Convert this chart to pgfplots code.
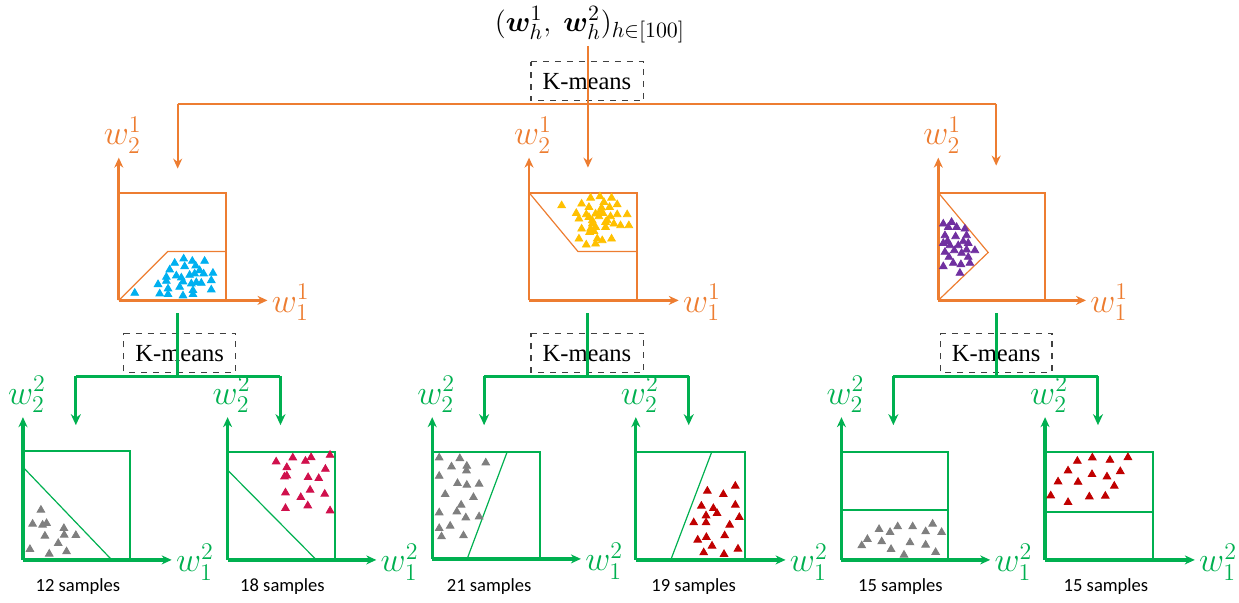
\documentclass[border=0pt]{standalone}
\usepackage{pgfplots}
\pgfplotsset{compat=1.18}
\usepackage{bm}
\usepackage{fontspec}
\setmainfont{Liberation Serif}
\newfontfamily\carlito{Carlito}
\usetikzlibrary{arrows.meta}
\definecolor{orng}{HTML}{ED7D31}
\definecolor{grn}{HTML}{00B050}
\definecolor{cyn}{HTML}{00B0F0}
\definecolor{ylw}{HTML}{FFC000}
\definecolor{prp}{HTML}{7030A0}
\definecolor{gry}{HTML}{7F7F7F}
\definecolor{crm}{HTML}{D0104C}
\definecolor{drd}{HTML}{C00000}
\tikzset{lab/.style={font=\fontsize{16.5}{18}\selectfont, inner sep=1pt},
  km/.style={font=\fontsize{12.3}{14}\selectfont, inner sep=1pt}}
\begin{document}
\begin{tikzpicture}
\begin{axis}[
  width=619.5pt, height=301.5pt, scale only axis,
  xmin=0, xmax=1239, ymin=0, ymax=603, y dir=reverse,
  hide axis, clip=false,
  oax/.style={orng, line width=1.4pt, -{Stealth[length=5pt,width=4.5pt]}},
  gax/.style={grn, line width=1.6pt, -{Stealth[length=5pt,width=4.5pt]}},
  obox/.style={orng, line width=1pt},
  gbox/.style={grn, line width=1pt},
  oin/.style={orng, line width=0.6pt},
  gin/.style={grn, line width=0.6pt},
  ocon/.style={orng, line width=0.9pt},
  ocona/.style={orng, line width=0.9pt, -{Stealth[length=5pt,width=4.5pt]}},
  gcon/.style={grn, line width=1.5pt},
  gcona/.style={grn, line width=1.5pt, -{Stealth[length=5.5pt,width=5pt]}},
  kbox/.style={black!75, dashed, line width=0.6pt},
  pts/.style={only marks, mark=triangle*, mark size=2.2pt, color=#1, mark options={draw=#1, fill=#1}},
]
\addplot[draw=none] coordinates {(0,0) (1239,603)};

% ---------- title and top K-means ----------
\node[font=\fontsize{15}{17}\selectfont] at (axis cs:591,24) {$(\bm{w}_h^{1},\ \bm{w}_h^{2})_{h\in[100]}$};
\addplot[kbox] coordinates {(532,61) (645,61) (645,100) (532,100) (532,61)};
\node[km] at (axis cs:588,81) {K-means};
\addplot[ocon] coordinates {(178,103) (998,103)};
\addplot[ocona] coordinates {(589,45) (589,167)};
\addplot[ocona] coordinates {(178,103) (178,168)};
\addplot[ocona] coordinates {(998,103) (998,165)};

% ---------- top panel 1 ----------
\addplot[obox] coordinates {(119,192) (226,192) (226,300)};
\addplot[oin] coordinates {(119,300) (168,251) (226,251)};
\addplot[oax] coordinates {(119,300) (119,157)};
\addplot[oax] coordinates {(119,300) (268,300)};
\addplot[pts=cyn] table[row sep=\\, x expr=\thisrow{x}/3+100, y expr=\thisrow{y}/3+110] {
x y\\ 105 548\\ 225 458\\ 252 445\\ 278 452\\ 315 452\\ 255 468\\ 288 466\\ 210 478\\ 300 480\\ 340 488\\
230 496\\ 270 494\\ 312 490\\ 200 500\\ 245 502\\ 285 490\\ 200 512\\ 250 514\\ 290 516\\ 305 518\\
335 510\\ 175 522\\ 205 535\\ 240 530\\ 275 520\\ 280 540\\ 335 538\\ 180 550\\ 205 552\\ 250 556\\ 280 552\\
};
\node[orng, lab, anchor=south] at (axis cs:123,155) {$w_2^1$};
\node[orng, lab, anchor=west] at (axis cs:270,302) {$w_1^1$};

% ---------- top panel 2 ----------
\addplot[obox] coordinates {(530,192) (638,192) (638,300)};
\addplot[oin] coordinates {(530,192) (579,251) (638,251)};
\addplot[oax] coordinates {(530,300) (530,157)};
\addplot[oax] coordinates {(530,300) (680,300)};
\addplot[pts=ylw] table[row sep=\\, x expr=\thisrow{x}/3+500, y expr=\thisrow{y}/3+110] {
x y\\ 188 285\\ 248 280\\ 275 262\\ 303 258\\ 338 262\\ 270 290\\ 315 275\\ 355 282\\ 308 292\\ 332 290\\
232 308\\ 262 312\\ 290 310\\ 312 308\\ 335 318\\ 355 312\\ 385 312\\ 240 325\\ 270 320\\ 300 318\\
325 330\\ 280 340\\ 320 335\\ 345 340\\ 365 345\\ 390 345\\ 248 355\\ 275 355\\ 290 350\\ 320 350\\
272 365\\ 285 362\\ 240 385\\ 295 385\\ 310 390\\ 338 385\\ 262 403\\ 290 400\\ 280 330\\ 305 300\\
};
\node[orng, lab, anchor=south] at (axis cs:534,155) {$w_2^1$};
\node[orng, lab, anchor=west] at (axis cs:682,302) {$w_1^1$};

% ---------- top panel 3 ----------
\addplot[obox] coordinates {(940,192) (1047,192) (1047,300)};
\addplot[oin] coordinates {(940,192) (990,252) (940,300)};
\addplot[oax] coordinates {(940,300) (940,157)};
\addplot[oax] coordinates {(940,300) (1088,300)};
\addplot[pts=prp] table[row sep=\\, x expr=\thisrow{x}/3+900, y expr=\thisrow{y}/3+110] {
x y\\ 135 340\\ 160 335\\ 150 350\\ 175 350\\ 200 355\\ 140 375\\ 172 378\\ 205 375\\ 148 392\\ 195 393\\
210 398\\ 135 398\\ 155 405\\ 180 405\\ 168 420\\ 190 428\\ 205 418\\ 230 420\\ 140 425\\ 152 440\\
210 440\\ 165 458\\ 188 462\\ 215 458\\ 135 468\\ 185 488\\
};
\node[orng, lab, anchor=south] at (axis cs:944,155) {$w_2^1$};
\node[orng, lab, anchor=west] at (axis cs:1090,302) {$w_1^1$};

% ---------- green connectors and K-means boxes ----------
\addplot[kbox] coordinates {(124,333) (236,333) (236,372) (124,372) (124,333)};
\addplot[kbox] coordinates {(532,333) (645,333) (645,372) (532,372) (532,333)};
\addplot[kbox] coordinates {(942,333) (1054,333) (1054,372) (942,372) (942,333)};
\node[km] at (axis cs:180,353) {K-means};
\node[km] at (axis cs:588,353) {K-means};
\node[km] at (axis cs:998,353) {K-means};
\addplot[gcon] coordinates {(178,313) (178,376)};
\addplot[gcon] coordinates {(76,376) (281,376)};
\addplot[gcona] coordinates {(76,376) (76,425)};
\addplot[gcona] coordinates {(281,376) (281,425)};
\addplot[gcon] coordinates {(589,313) (589,376)};
\addplot[gcon] coordinates {(485,376) (690,376)};
\addplot[gcona] coordinates {(485,376) (485,425)};
\addplot[gcona] coordinates {(690,376) (690,425)};
\addplot[gcon] coordinates {(998,313) (998,376)};
\addplot[gcon] coordinates {(895,376) (1100,376)};
\addplot[gcona] coordinates {(895,376) (895,425)};
\addplot[gcona] coordinates {(1100,376) (1100,425)};

% ---------- bottom panel 1 ----------
\addplot[gbox] coordinates {(23,451) (130,451) (130,560)};
\addplot[gin] coordinates {(23,467) (112,560)};
\addplot[gax] coordinates {(23,560) (23,417)};
\addplot[gax] coordinates {(23,560) (172,560)};
\addplot[pts=gry] table[row sep=\\, x expr=\thisrow{x}/3, y expr=\thisrow{y}/3+380] {
x y\\ 123 390\\ 98 432\\ 128 435\\ 140 430\\ 192 445\\ 135 468\\ 193 465\\ 228 466\\ 175 490\\ 90 508\\ 148 522\\ 200 515\\
};
\node[grn, lab, anchor=south] at (axis cs:27,415) {$w_2^2$};
\node[grn, lab, anchor=west] at (axis cs:174,562) {$w_1^2$};
\node[font=\carlito\fontsize{9.3}{11}\selectfont] at (axis cs:78,587) {12 samples};

% ---------- bottom panel 2 ----------
\addplot[gbox] coordinates {(228,452) (336,452) (336,560)};
\addplot[gin] coordinates {(228,470) (317,560)};
\addplot[gax] coordinates {(228,560) (228,417)};
\addplot[gax] coordinates {(228,560) (377,560)};
\addplot[pts=crm] table[row sep=\\, x expr=\thisrow{x}/3+210, y expr=\thisrow{y}/3+380] {
x y\\ 200 245\\ 250 233\\ 288 243\\ 305 232\\ 362 225\\ 232 262\\ 348 267\\ 225 290\\ 232 287\\ 296 292\\
328 295\\ 228 338\\ 302 330\\ 346 342\\ 274 352\\ 228 385\\ 295 377\\ 362 392\\
};
\node[grn, lab, anchor=south] at (axis cs:232,415) {$w_2^2$};
\node[grn, lab, anchor=west] at (axis cs:379,562) {$w_1^2$};
\node[font=\carlito\fontsize{9.3}{11}\selectfont] at (axis cs:283,587) {18 samples};

% ---------- bottom panel 3 ----------
\addplot[gbox] coordinates {(433,452) (541,452) (541,559)};
\addplot[gin] coordinates {(468,559) (508,452)};
\addplot[gax] coordinates {(433,559) (433,417)};
\addplot[gax] coordinates {(433,559) (582,559)};
\addplot[pts=gry] table[row sep=\\, x expr=\thisrow{x}/3+420, y expr=\thisrow{y}/3+380] {
x y\\ 60 233\\ 122 235\\ 97 260\\ 143 258\\ 142 272\\ 200 248\\ 60 288\\ 115 310\\ 143 315\\ 180 312\\
78 343\\ 163 352\\ 126 375\\ 60 398\\ 113 395\\ 140 413\\ 180 410\\ 60 445\\ 93 438\\ 67 470\\ 133 467\\
};
\node[grn, lab, anchor=south] at (axis cs:437,415) {$w_2^2$};
\node[grn, lab, anchor=west] at (axis cs:584,561) {$w_1^2$};
\node[font=\carlito\fontsize{9.3}{11}\selectfont] at (axis cs:490,587) {21 samples};

% ---------- bottom panel 4 ----------
\addplot[gbox] coordinates {(637,452) (746,452) (746,560)};
\addplot[gin] coordinates {(672,560) (713,452)};
\addplot[gax] coordinates {(637,560) (637,417)};
\addplot[gax] coordinates {(637,560) (787,560)};
\addplot[pts=drd] table[row sep=\\, x expr=\thisrow{x}/3+620, y expr=\thisrow{y}/3+380] {
x y\\ 350 318\\ 266 333\\ 314 343\\ 248 378\\ 284 385\\ 350 375\\ 295 400\\ 262 407\\ 362 412\\ 225 428\\
262 428\\ 333 435\\ 318 467\\ 237 480\\ 263 472\\ 280 498\\ 358 507\\ 255 518\\ 316 523\\
};
\node[grn, lab, anchor=south] at (axis cs:641,415) {$w_2^2$};
\node[grn, lab, anchor=west] at (axis cs:789,562) {$w_1^2$};
\node[font=\carlito\fontsize{9.3}{11}\selectfont] at (axis cs:695,587) {19 samples};

% ---------- bottom panel 5 ----------
\addplot[gbox] coordinates {(843,452) (950,452) (950,560)};
\addplot[gin] coordinates {(843,510) (950,510)};
\addplot[gax] coordinates {(843,560) (843,417)};
\addplot[gax] coordinates {(843,560) (992,560)};
\addplot[pts=gry] table[row sep=\\, x expr=\thisrow{x}/3+830, y expr=\thisrow{y}/3+380] {
x y\\ 152 448\\ 208 440\\ 185 457\\ 253 440\\ 292 455\\ 313 432\\ 340 457\\ 117 478\\ 160 485\\ 100 497\\
245 488\\ 292 495\\ 188 508\\ 227 525\\ 322 517\\
};
\node[grn, lab, anchor=south] at (axis cs:847,415) {$w_2^2$};
\node[grn, lab, anchor=west] at (axis cs:994,562) {$w_1^2$};
\node[font=\carlito\fontsize{9.3}{11}\selectfont] at (axis cs:902,587) {15 samples};

% ---------- bottom panel 6 ----------
\addplot[gbox] coordinates {(1047,452) (1155,452) (1155,560)};
\addplot[gin] coordinates {(1047,512) (1155,512)};
\addplot[gax] coordinates {(1047,560) (1047,417)};
\addplot[gax] coordinates {(1047,560) (1197,560)};
\addplot[pts=drd] table[row sep=\\, x expr=\thisrow{x}/3+1030, y expr=\thisrow{y}/3+380] {
x y\\ 148 243\\ 193 233\\ 246 240\\ 300 232\\ 120 272\\ 192 283\\ 237 290\\ 277 274\\ 90 305\\ 150 306\\
259 318\\ 68 347\\ 184 350\\ 232 348\\ 120 367\\
};
\node[grn, lab, anchor=south] at (axis cs:1051,415) {$w_2^2$};
\node[grn, lab, anchor=west] at (axis cs:1199,562) {$w_1^2$};
\node[font=\carlito\fontsize{9.3}{11}\selectfont] at (axis cs:1108,587) {15 samples};
\end{axis}
\end{tikzpicture}
\end{document}
